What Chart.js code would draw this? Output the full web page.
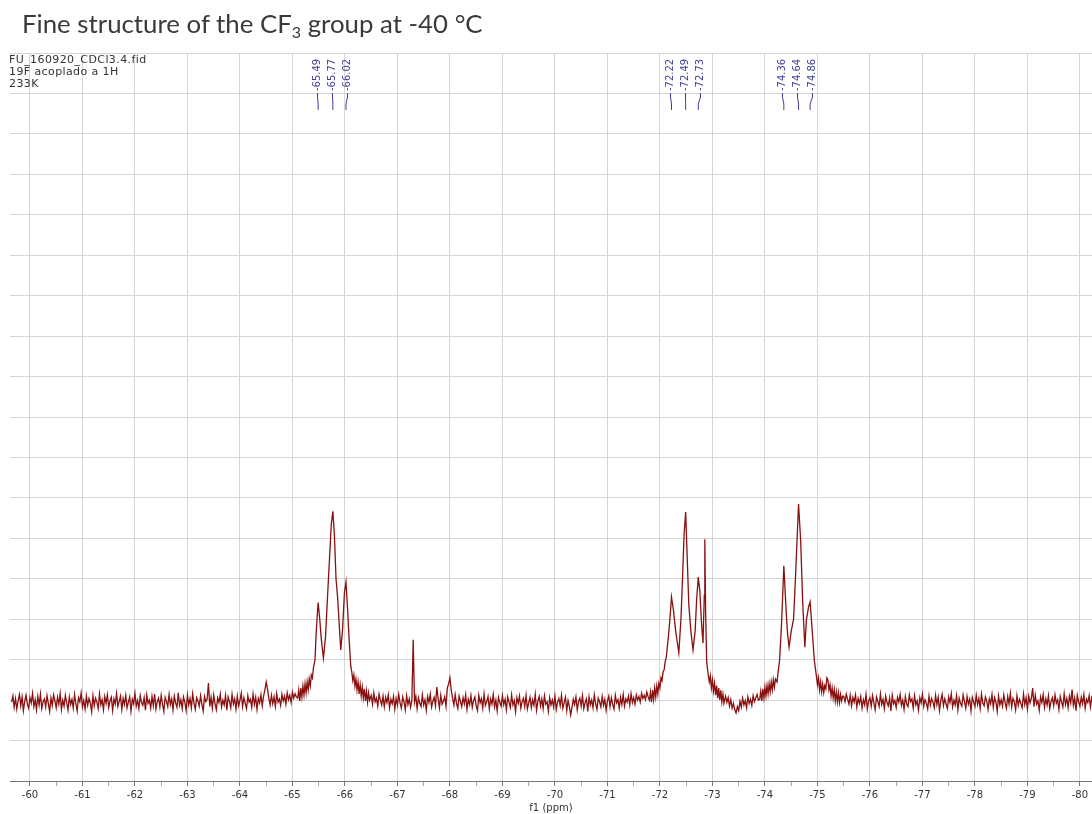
<!DOCTYPE html>
<html><head><meta charset="utf-8">
<script src="https://cdn.jsdelivr.net/npm/chart.js@4.4.1/dist/chart.umd.min.js"></script>
<style>
html,body{margin:0;padding:0;background:#fff;}
#wrap{position:relative;width:1092px;height:814px;overflow:hidden;background:#fff;}
canvas{position:absolute;left:0;top:0;}
#title{position:absolute;left:22px;top:8px;font-family:Lato,"Open Sans",sans-serif;font-size:25.8px;color:#3a3a3a;white-space:nowrap;z-index:2;}
#title sub{font-size:0.62em;vertical-align:-0.3em;line-height:0;}
</style></head><body>
<div id="wrap"><canvas id="c" width="1092" height="814"></canvas><div id="title">Fine structure of the CF<sub>3</sub> group at -40 °C</div></div>
<script>
// ---------------- DATA ----------------
const majorTicks = [-60,-61,-62,-63,-64,-65,-66,-67,-68,-69,-70,-71,-72,-73,-74,-75,-76,-77,-78,-79,-80];
const minorTicks = [-60.5,-61.5,-62.5,-63.5,-64.5,-65.5,-66.5,-67.5,-68.5,-69.5,-70.5,-71.5,-72.5,-73.5,-74.5,-75.5,-76.5,-77.5,-78.5,-79.5];

const infoLines = ['FU_160920_CDCl3.4.fid', '19F acoplado a 1H', '233K'];
const peakGroup1 = [-65.49, -65.77, -66.02];
const peakGroup2 = [-72.22, -72.49, -72.73];
const peakGroup3 = [-74.36, -74.64, -74.86];

const sampleStep = 0.025;          // ppm between baseline samples
const baselineAStart = -59.65;
const baselineA = [
1.95,2.10,1.82,2.04,1.78,1.99,2.14,1.86,2.08,1.74,1.97,2.12,1.90,1.80,2.06,1.93,2.17,1.84,2.01,1.76,
2.09,1.88,2.15,1.79,1.96,2.03,1.83,2.11,1.92,1.72,2.05,1.87,2.13,1.98,1.81,2.07,1.90,2.16,1.77,2.00,
1.85,2.12,1.94,1.75,2.08,1.89,2.02,1.80,2.14,1.91,1.73,2.06,1.96,2.18,1.83,1.99,1.78,2.10,1.87,2.04,
1.93,1.71,2.11,1.86,2.05,1.95,1.79,2.15,1.88,2.01,1.76,2.09,1.92,2.13,1.82,1.98,2.07,1.74,2.03,1.90,
2.16,1.84,1.97,2.10,1.77,2.04,1.89,2.12,1.81,1.95,2.08,1.73,2.02,1.91,2.17,1.85,1.99,1.79,2.11,1.94,
1.87,2.06,1.75,2.13,1.92,2.00,1.80,2.09,1.86,2.15,1.78,1.96,2.05,1.83,2.12,1.90,1.72,2.07,1.97,1.84,
2.14,1.89,2.03,1.76,2.10,1.93,1.82,2.18,1.87,2.01,1.79,2.08,1.95,1.74,2.12,1.88,2.04,1.81,2.16,1.92,
1.77,2.06,1.98,1.85,2.11,1.90,1.73,2.09,1.96,2.02,2.42,1.84,2.07,1.80,2.13,1.91,1.76,2.05,1.94,2.15,
1.83,2.00,1.88,2.12,1.75,2.08,1.97,1.81,2.14,1.90,2.03,1.78,2.10,1.86,1.99,2.17,1.84,2.06,1.92,1.79,
2.11,1.95,2.02,1.82,2.15,1.89,2.07,1.77,2.04,1.93,2.13,1.86,2.10,2.25,2.45,2.28,2.05,1.88,2.12,1.91,
2.08,1.84,2.16,1.95,2.03,1.87,2.14,1.98,2.10,1.90,2.18,2.01,2.12,1.94,2.20,2.05,2.16,2.08];

const peak1Ppm = [-65.10,-65.12,-65.14,-65.16,-65.18,-65.20,-65.22,-65.24,-65.26,-65.28,-65.30,-65.32,-65.34,-65.36,-65.38,-65.40,
  -65.43,-65.45,-65.47,-65.49,-65.52,-65.55,-65.59,-65.63,-65.67,-65.71,-65.74,-65.77,-65.80,-65.83,-65.86,-65.89,-65.92,-65.955,-65.99,-66.02,-66.05,-66.08,
  -66.11,-66.13,-66.15,-66.17,-66.19,-66.21,-66.23,-66.25,-66.27,-66.29,-66.31,-66.33,-66.35,-66.37,-66.39,-66.41,-66.43,-66.45,-66.47];
const peak1Int = [2.05,2.25,1.98,2.30,2.08,2.35,2.12,2.40,2.18,2.45,2.25,2.52,2.35,2.62,2.55,2.80,
  3.00,3.60,4.05,4.41,4.00,3.50,3.04,3.56,4.60,5.60,6.35,6.67,6.05,5.00,4.55,3.90,3.24,3.75,4.65,4.92,4.25,3.50,
  2.85,2.70,2.48,2.62,2.35,2.52,2.25,2.45,2.15,2.38,2.10,2.32,2.05,2.28,1.98,2.22,1.95,2.18,2.00];

const baselineBStart = -66.50;
const baselineB = [
2.12,1.90,2.18,1.96,2.05,1.85,2.15,2.00,1.88,2.10,1.83,2.07,1.94,2.13,1.81,2.02,1.91,2.09,1.78,2.04,
1.87,2.14,1.93,1.80,2.08,1.96,1.76,2.11,1.89,2.03,1.82,2.00,3.49,1.95,2.10,1.79,2.06,1.92,1.84,2.13,
1.88,2.01,1.75,2.09,1.94,2.15,1.83,1.98,2.07,1.86,2.32,2.04,1.81,2.12,1.90,1.97,2.08,1.85,2.30,2.40,
2.55,2.25,2.05,1.88,2.14,1.92,1.79,2.10,1.97,1.84,2.06,1.91,2.13,1.77,2.02,1.89,2.11,1.82,1.99,2.08,
1.86,1.74,2.12,1.93,2.04,1.80,2.15,1.87,1.96,2.09,1.78,2.03,1.90,2.14,1.83,2.00,1.73,2.07,1.94,1.85,
2.11,1.89,2.02,1.76,2.08,1.95,1.82,2.13,1.88,1.99,1.71,2.06,1.92,2.10,1.80,1.97,2.05,1.84,2.12,1.78,
1.93,2.07,1.81,2.01,1.87,2.14,1.75,1.98,2.09,1.85,2.03,1.79,2.11,1.90,1.96,1.72,2.06,1.88,2.00,1.83,
2.10,1.77,1.95,2.04,1.86,2.12,1.80,1.93,2.07,1.74,1.99,1.84,1.63,1.82,2.02,1.89,2.08,1.76,1.97,2.05,
1.85,2.11,1.79,1.94,2.03,1.72,2.08,1.88,2.00,1.81,2.13,1.91,1.77,2.05,1.96,1.83,2.09,1.87,2.02,1.75,
1.98,2.10,1.84,2.06,1.90,1.78,2.12,1.93,2.01,1.80,2.07,1.89,2.14,1.85,2.03,1.95,2.10,1.88,2.16,1.94,
2.06,1.90,2.13,2.00,2.09,1.95,2.17,2.04,2.12,2.01,2.20,2.08];

const peak2Ppm = [-71.80,-71.82,-71.84,-71.86,-71.88,-71.90,-71.92,-71.94,-71.96,-71.98,-72.00,-72.02,-72.04,-72.06,-72.08,-72.10,
  -72.12,-72.16,-72.19,-72.22,-72.26,-72.30,-72.36,-72.40,-72.43,-72.46,-72.49,-72.52,-72.55,-72.59,-72.63,-72.67,-72.70,-72.73,-72.76,-72.79,-72.82,-72.845,-72.855,-72.87,-72.89,
  -72.92,-72.94,-72.96,-72.98,-73.00,-73.02,-73.04,-73.06,-73.08,-73.10,-73.12,-73.14,-73.16,-73.18,-73.20,-73.22];
const peak2Int = [2.00,2.20,1.95,2.25,2.02,2.30,2.08,2.35,2.15,2.42,2.30,2.55,2.48,2.70,2.75,2.95,
  3.05,3.55,4.00,4.55,4.20,3.70,3.17,4.00,5.00,6.10,6.65,5.50,4.35,3.70,3.24,3.70,4.50,5.04,4.70,3.95,3.41,4.60,5.98,4.20,2.95,
  2.62,2.45,2.60,2.30,2.50,2.22,2.42,2.12,2.36,2.05,2.30,2.00,2.24,1.95,2.15,1.92];

const baselineCStart = -73.25;
const baselineC = [2.10,1.94,2.06,1.85,2.01,1.80,1.92,1.76,1.68,1.84,1.74,1.97,1.83,2.05,1.88,1.99,1.81,2.08,1.92,2.02,1.87,2.11,1.96,2.05,2.14,2.00];

const peak3Ppm = [-73.90,-73.92,-73.94,-73.96,-73.98,-74.00,-74.02,-74.04,-74.06,-74.08,-74.10,-74.12,-74.14,-74.16,-74.18,-74.20,
  -74.23,-74.28,-74.32,-74.36,-74.40,-74.43,-74.46,-74.50,-74.545,-74.58,-74.62,-74.64,-74.68,-74.72,-74.76,-74.79,-74.83,-74.86,-74.90,-74.94,
  -74.98,-75.00,-75.02,-75.04,-75.06,-75.08,-75.10,-75.12,-75.14,-75.16,-75.18,-75.20,-75.22,-75.24,-75.26,-75.28,-75.30,-75.32,-75.34,-75.36,-75.38,-75.40,-75.42,-75.44,-75.46,-75.48];
const peak3Int = [2.02,2.22,1.98,2.28,2.05,2.32,2.10,2.36,2.15,2.40,2.20,2.45,2.25,2.50,2.32,2.52,
  2.45,3.00,3.98,5.32,4.30,3.66,3.31,3.70,4.00,4.97,6.21,6.85,5.96,4.40,3.31,3.98,4.30,4.43,3.73,2.99,
  2.60,2.38,2.55,2.25,2.45,2.20,2.40,2.18,2.36,2.28,2.55,2.50,2.25,2.38,2.10,2.30,2.05,2.26,1.98,2.20,1.95,2.18,1.94,2.14,1.98,2.10];

const baselineDStart = -75.50;
const baselineD = [
2.10,1.96,2.15,2.02,1.90,2.12,1.86,2.07,1.95,2.13,1.83,2.04,1.92,2.09,1.80,2.01,1.88,2.14,1.78,1.98,
2.06,1.85,2.11,1.93,1.76,2.08,1.97,1.84,2.15,1.89,2.02,1.79,2.10,1.94,1.86,2.05,1.73,2.12,1.91,1.99,
1.82,2.07,1.95,2.14,1.87,2.00,1.77,2.09,1.90,1.84,2.13,1.96,2.03,1.80,2.11,1.88,1.98,1.75,2.06,1.93,
2.15,1.85,2.01,1.92,1.78,2.10,1.87,2.04,1.95,1.81,2.12,1.89,2.07,1.74,1.99,2.14,1.86,2.03,1.91,1.79,
2.08,1.94,2.16,1.83,2.00,1.88,2.11,1.76,2.05,1.92,1.85,2.13,1.97,1.80,2.09,1.90,2.02,1.73,2.07,1.95,
1.84,2.12,1.89,2.04,1.79,2.15,1.93,1.86,2.08,1.98,1.77,2.03,1.91,2.14,1.82,2.06,1.95,1.72,2.10,1.88,
2.01,1.85,2.13,1.94,1.80,2.09,1.90,2.17,1.83,2.04,1.96,1.76,2.11,1.87,2.02,1.92,1.81,2.15,1.89,2.06,
1.78,2.10,1.93,2.05,2.30,1.84,2.12,1.90,1.98,1.75,2.08,1.94,2.14,1.82,2.03,1.88,2.11,1.79,1.97,2.06,
1.86,2.13,1.92,2.01,1.77,2.09,1.95,1.83,2.16,1.89,2.04,1.81,2.10,1.93,2.26,1.87,2.05,1.74,2.12,1.96,
1.85,2.07,1.91,2.14,1.80,2.02,1.94,2.11,1.83,2.06,1.97];

// ---------------- BUILD ----------------
const points = [];
function addSampled(start, vals){
  vals.forEach((v,i)=>points.push({x: Number((start - i*sampleStep).toFixed(3)), y: v}));
}
function addPairs(xs, ys){
  xs.forEach((x,i)=>points.push({x: x, y: ys[i]}));
}
addSampled(baselineAStart, baselineA);
addPairs(peak1Ppm, peak1Int);
addSampled(baselineBStart, baselineB);
addPairs(peak2Ppm, peak2Int);
addSampled(baselineCStart, baselineC);
addPairs(peak3Ppm, peak3Int);
addSampled(baselineDStart, baselineD);

const GRID = '#d5d5d5';
const isMajor = v => majorTicks.includes(v);

const annotate = {
  id: 'annotate',
  afterDraw(chart){
    const ctx = chart.ctx, xs = chart.scales.x;
    ctx.save();
    ctx.fillStyle = '#333';
    ctx.font = '11px "DejaVu Sans"';
    try { ctx.letterSpacing = '0.4px'; } catch(e) {}
    ctx.textBaseline = 'middle';
    ctx.textAlign = 'left';
    infoLines.forEach((t,i)=>ctx.fillText(t, 9, 60 + i*12));
    try { ctx.letterSpacing = '0px'; } catch(e) {}

    ctx.fillStyle = '#40409c';
    ctx.strokeStyle = '#40409c';
    ctx.lineWidth = 1;
    ctx.font = '10px "DejaVu Sans"';
    [peakGroup1, peakGroup2, peakGroup3].forEach(group=>{
      const px = group.map(p=>xs.getPixelForValue(p));
      const c = px.reduce((a,b)=>a+b,0)/px.length;
      group.forEach((p,i)=>{
        const lx = Math.round(c + (i-1)*15) + 0.5;
        ctx.save();
        ctx.translate(lx, 91);
        ctx.rotate(-Math.PI/2);
        ctx.textAlign = 'left';
        ctx.textBaseline = 'middle';
        ctx.fillText(p.toFixed(2), 0, 0);
        ctx.restore();
        ctx.beginPath();
        ctx.moveTo(lx, 93);
        ctx.lineTo(lx, 97);
        ctx.lineTo(px[i], 104);
        ctx.lineTo(px[i], 110);
        ctx.stroke();
      });
    });
    ctx.restore();
  }
};

new Chart(document.getElementById('c').getContext('2d'), {
  type: 'line',
  data: { datasets: [{
    data: points,
    borderColor: '#8a0f0f',
    borderWidth: 1.3,
    pointRadius: 0,
    tension: 0,
    fill: false
  }]},
  options: {
    responsive: false,
    animation: false,
    events: [],
    layout: { padding: { top: 53, left: 10, right: 0, bottom: 0 } },
    plugins: { legend: { display: false }, tooltip: { enabled: false }, title: { display: false } },
    scales: {
      x: {
        type: 'linear', reverse: true, min: -80.23, max: -59.62,
        afterBuildTicks: s => { s.ticks = majorTicks.concat(minorTicks).sort((a,b)=>a-b).map(v=>({value: v})); },
        afterFit: s => { s.height = 33; },
        border: { display: true, color: '#777', width: 1 },
        grid: {
          color: c => (c.tick && isMajor(c.tick.value)) ? GRID : 'rgba(0,0,0,0)',
          tickColor: c => (c.tick && isMajor(c.tick.value)) ? '#777' : '#aaa',
          tickLength: 5, lineWidth: 1, drawTicks: true
        },
        ticks: {
          autoSkip: false, maxRotation: 0, padding: 3, color: '#333',
          font: { family: 'DejaVu Sans', size: 10 },
          callback: v => isMajor(v) ? String(v) : ''
        },
        title: { display: true, text: 'f1 (ppm)', color: '#333',
          font: { family: 'DejaVu Sans', size: 10 }, padding: { top: 0, bottom: 0 } }
      },
      y: {
        min: 0, max: 18,
        afterFit: s => { s.width = 0; },
        ticks: { display: false, stepSize: 1 },
        grid: { color: GRID, drawTicks: false, lineWidth: 1 },
        border: { display: false }
      }
    }
  },
  plugins: [annotate]
});
</script>
</body></html>
